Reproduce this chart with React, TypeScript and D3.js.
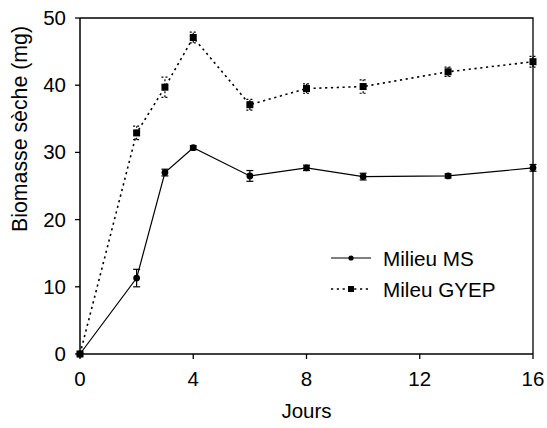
import React from "react";
import * as d3 from "d3";

const days = [0, 2, 3, 4, 6, 8, 10, 13, 16];
const msValues = [0, 11.3, 27.0, 30.7, 26.5, 27.7, 26.4, 26.5, 27.7];
const msErrors = [0, 1.3, 0.5, 0.3, 0.8, 0.4, 0.5, 0.3, 0.5];
const gyepValues = [0, 32.9, 39.7, 47.1, 37.1, 39.5, 39.8, 42.0, 43.5];
const gyepErrors = [0, 1.0, 1.5, 0.8, 0.8, 0.7, 1.0, 0.7, 0.8];
const xTicks = [0, 4, 8, 12, 16];
const yTicks = [0, 10, 20, 30, 40, 50];
const seriesNames = ["Milieu MS", "Mileu GYEP"];
const xTitle = "Jours";
const yTitle = "Biomasse sèche (mg)";

const W = 547;
const H = 428;
const left = 80;
const right = 533;
const top = 18;
const bottom = 354;
const font = "'Liberation Sans', Arial, sans-serif";

export default function App() {
  const x = d3.scaleLinear().domain([0, 16]).range([left, right]);
  const y = d3.scaleLinear().domain([0, 50]).range([bottom, top]);
  const line = d3
    .line<number>()
    .x((_, i) => x(days[i]))
    .y((v) => y(v));
  const dash = "2.2,3.6";
  const cap = 3.5;

  const errBars = (vals: number[], errs: number[], dashed: boolean) =>
    vals.map((v, i) =>
      errs[i] > 0 ? (
        <g key={i} stroke="#000" strokeWidth={1.2} strokeDasharray={dashed ? "2,2" : undefined}>
          <line x1={x(days[i])} x2={x(days[i])} y1={y(v - errs[i])} y2={y(v + errs[i])} />
          <line x1={x(days[i]) - cap} x2={x(days[i]) + cap} y1={y(v - errs[i])} y2={y(v - errs[i])} />
          <line x1={x(days[i]) - cap} x2={x(days[i]) + cap} y1={y(v + errs[i])} y2={y(v + errs[i])} />
        </g>
      ) : null
    );

  return (
    <svg width={W} height={H} style={{ position: "absolute", left: 0, top: 0, background: "#fff" }}>
      <rect x={0} y={0} width={W} height={H} fill="#fff" />
      <path d={`M${left},${top}H${right}V${bottom}`} fill="none" stroke="#000" strokeWidth={1.3} />
      <line x1={left} x2={left} y1={top} y2={bottom} stroke="#000" strokeWidth={1.5} />
      <line x1={left} x2={right} y1={bottom} y2={bottom} stroke="#000" strokeWidth={1.5} />
      {yTicks.map((t) => (
        <g key={"y" + t}>
          <line x1={left - 5} x2={left} y1={y(t)} y2={y(t)} stroke="#000" strokeWidth={1.3} />
          <text x={left - 14} y={y(t) + 7} textAnchor="end" fontFamily={font} fontSize={20.5}>
            {t}
          </text>
        </g>
      ))}
      {xTicks.map((t) => (
        <g key={"x" + t}>
          <line x1={x(t)} x2={x(t)} y1={bottom} y2={bottom + 5} stroke="#000" strokeWidth={1.3} />
          <text x={x(t)} y={386} textAnchor="middle" fontFamily={font} fontSize={20.5}>
            {t}
          </text>
        </g>
      ))}
      <text x={(left + right) / 2} y={418} textAnchor="middle" fontFamily={font} fontSize={20.5}>
        {xTitle}
      </text>
      <text
        transform="translate(27,129) rotate(-90)"
        textAnchor="middle"
        fontFamily={font}
        fontSize={21.3}
      >
        {yTitle}
      </text>

      <path d={line(gyepValues) || ""} fill="none" stroke="#000" strokeWidth={1.6} strokeDasharray={dash} />
      {errBars(gyepValues, gyepErrors, true)}
      {gyepValues.map((v, i) => (
        <rect key={"s" + i} x={x(days[i]) - 3.5} y={y(v) - 3.5} width={7} height={7} fill="#000" />
      ))}

      <path d={line(msValues) || ""} fill="none" stroke="#000" strokeWidth={1.2} />
      {errBars(msValues, msErrors, false)}
      {msValues.map((v, i) => (
        <circle key={"c" + i} cx={x(days[i])} cy={y(v)} r={3.4} fill="#000" />
      ))}

      <line x1={331} x2={371} y1={258} y2={258} stroke="#000" strokeWidth={1.2} />
      <circle cx={351} cy={258} r={2.6} fill="#000" />
      <text x={383} y={266} fontFamily={font} fontSize={20.7}>
        {seriesNames[0]}
      </text>
      <line x1={331} x2={371} y1={289} y2={289} stroke="#000" strokeWidth={1.6} strokeDasharray={dash} />
      <rect x={348} y={286} width={6} height={6} fill="#000" />
      <text x={383} y={297} fontFamily={font} fontSize={20.7}>
        {seriesNames[1]}
      </text>
    </svg>
  );
}
